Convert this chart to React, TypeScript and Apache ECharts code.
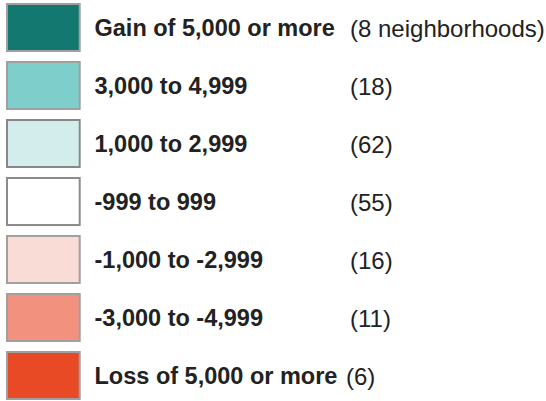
import React, { useEffect, useRef } from "react";
import * as echarts from "echarts";

const labels = [
  "Gain of 5,000 or more",
  "3,000 to 4,999",
  "1,000 to 2,999",
  "-999 to 999",
  "-1,000 to -2,999",
  "-3,000 to -4,999",
  "Loss of 5,000 or more",
];
const counts = [8, 18, 62, 55, 16, 11, 6];
const colors = ["#127870", "#7ecfcc", "#d3ecec", "#ffffff", "#f9dcd6", "#f2917d", "#e84a26"];
const borderColors = ["#a0a0a0", "#a0a0a0", "#888888", "#8c8c8c", "#a0a0a0", "#a0a0a0", "#a0a0a0"];

export default function App() {
  const ref = useRef<HTMLDivElement>(null);
  useEffect(() => {
    document.body.style.margin = "0";
    const chart = echarts.init(ref.current!, null, { renderer: "svg" });
    const font = "'Liberation Sans', Arial, Helvetica, sans-serif";
    chart.setOption({
      animation: false,
      backgroundColor: "#ffffff",
      grid: { left: 0, top: 0, width: 546, height: 401 },
      xAxis: { type: "value", min: 0, max: 546, show: false },
      yAxis: { type: "value", min: -0.474, max: 6.44, inverse: true, show: false },
      series: [
        {
          type: "custom",
          data: labels.map((l, i) => [i, l, counts[i]]),
          renderItem: (params: any, api: any) => {
            const i = api.value(0);
            const [, cy] = api.coord([0, i]);
            const countText = i === 0 ? `(${counts[i]} neighborhoods)` : `(${counts[i]})`;
            const countX = i === labels.length - 1 ? 346 : 350;
            return {
              type: "group",
              children: [
                {
                  type: "rect",
                  shape: { x: 7, y: cy - 23.5, width: 72.7, height: 47 },
                  style: { fill: colors[i], stroke: borderColors[i], lineWidth: 2 },
                },
                {
                  type: "text",
                  x: 94.5,
                  y: cy + 1,
                  style: {
                    text: labels[i],
                    font: `bold 23.5px ${font}`,
                    fill: "#222222",
                    verticalAlign: "middle",
                    align: "left",
                  },
                },
                {
                  type: "text",
                  x: countX,
                  y: cy + 1,
                  style: {
                    text: countText,
                    font: `24px ${font}`,
                    fill: "#222222",
                    verticalAlign: "middle",
                    align: "left",
                  },
                },
              ],
            };
          },
        },
      ],
    });
    return () => chart.dispose();
  }, []);
  return <div ref={ref} style={{ width: 546, height: 401 }} />;
}
